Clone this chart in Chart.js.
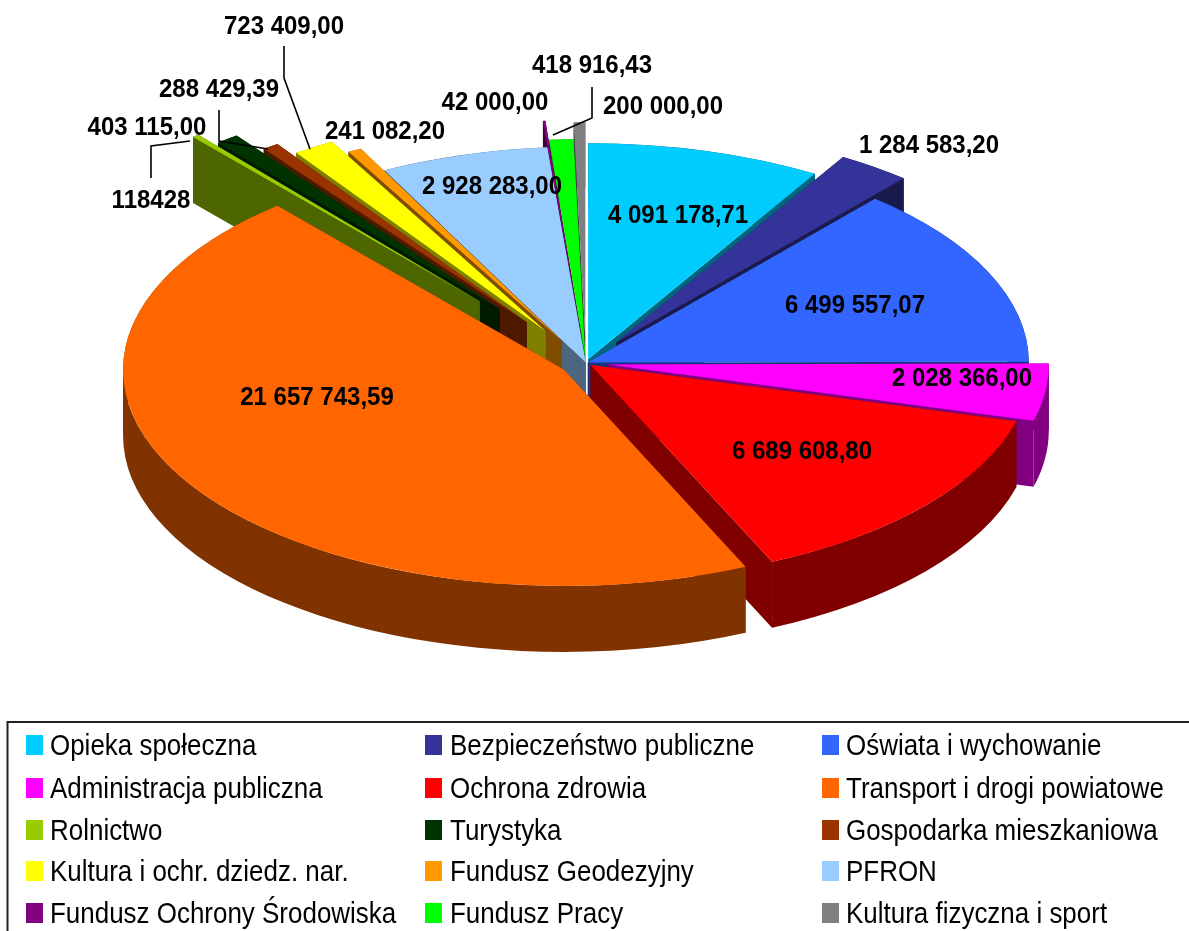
<!DOCTYPE html>
<html lang="pl">
<head>
<meta charset="utf-8">
<title>Wydatki</title>
<script src="https://cdn.jsdelivr.net/npm/chart.js@4/dist/chart.umd.js"></script>
<style>
html,body{margin:0;padding:0;background:#fff;overflow:hidden}
canvas{display:block}
</style>
</head>
<body>
<canvas id="c" width="1189" height="931"></canvas>
<script>
const categories = ["Opieka społeczna","Bezpieczeństwo publiczne","Oświata i wychowanie","Administracja publiczna","Ochrona zdrowia","Transport i drogi powiatowe","Rolnictwo","Turystyka","Gospodarka mieszkaniowa","Kultura i ochr. dziedz. nar.","Fundusz Geodezyjny","PFRON","Fundusz Ochrony Środowiska","Fundusz Pracy","Kultura fizyczna i sport"];
const values = [4091178.71,1284583.20,6499557.07,2028366.00,6689608.80,21657743.59,118428,403115.00,288429.39,723409.00,241082.20,2928283.00,42000.00,418916.43,200000.00];
const valueLabels = ["4 091 178,71","1 284 583,20","6 499 557,07","2 028 366,00","6 689 608,80","21 657 743,59","118428","403 115,00","288 429,39","723 409,00","241 082,20","2 928 283,00","42 000,00","418 916,43","200 000,00"];
const colors = ["#00ccff","#333399","#3366ff","#ff00ff","#ff0000","#ff6600","#99cc00","#003300","#993300","#ffff00","#ff9900","#99ccff","#800080","#00ff00","#808080"];
const explode = [8,52,2,22,6,26,165,140,102,77,51,1,55,16,50];
const labelPos = [[678,216],[929,146],[855,306],[962,379],[802,452],[317,398],[151,201],[147,128],[219,90],[284,27],[385,132],[492,187],[495,103],[592,66],[663,107]];
const leaders = [
  [[151,178],[151,146],[190,141]],
  [[219,110],[219,141],[268,149]],
  [[284,46],[284,78],[310,149]],
  [[592,87],[592,118],[553,135]]
];
const PIE = {cx:586, cy:363, k:0.49, r:441, depth:66};
const LEG = {x:7.5, y:722, swW:17, swH:20, cols:[[26,50],[425,450],[822,846]], rows:[745,788,830,871,913], font:29, sx:0.895};
const VAL = {font:25, sx:0.96};

function halfColor(hex){
  const n = parseInt(hex.slice(1),16);
  const h = v => Math.round(v/2).toString(16).padStart(2,'0');
  return '#'+h(n>>16&255)+h(n>>8&255)+h(n&255);
}

const pie3d = {
  id:'pie3d',
  afterDatasetUpdate(chart){
    const arcs = chart.getDatasetMeta(0).data;
    arcs.forEach((el,i)=>{
      const mid=(el.startAngle+el.endAngle)/2;
      el.x += Math.cos(mid)*explode[i];
      el.y += Math.sin(mid)*explode[i];
    });
  },
  beforeDatasetsDraw(chart){
    const ctx=chart.ctx, a=chart.chartArea;
    const ox=(a.left+a.right)/2, oy=(a.top+a.bottom)/2;
    ctx.save();
    ctx.translate(PIE.cx,PIE.cy);
    ctx.scale(1,PIE.k);
    ctx.translate(-ox,-oy);
    const arcs=chart.getDatasetMeta(0).data;
    // painter's order: the further a slice reaches from the back of the pie, the later it is painted
    const fromBack=el=>{
      const back=-Math.PI/2;
      const s=el.startAngle-back, e=el.endAngle-back;
      if(s<=Math.PI&&e>=Math.PI) return Math.PI;
      const dist=t=>{const n=((t%(2*Math.PI))+2*Math.PI)%(2*Math.PI);return Math.min(n,2*Math.PI-n);};
      return Math.max(dist(s),dist(e));
    };
    const order=arcs.map((el,i)=>i).sort((p,q)=>fromBack(arcs[p])-fromBack(arcs[q]));
    const d=PIE.depth/PIE.k;
    order.forEach(i=>{
      const el=arcs[i], R=el.outerRadius, s=el.startAngle, e=el.endAngle;
      ctx.fillStyle=halfColor(colors[i]);
      [s,e].forEach(t=>{
        const px=el.x+Math.cos(t)*R, py=el.y+Math.sin(t)*R;
        ctx.beginPath();
        ctx.moveTo(el.x,el.y);
        ctx.lineTo(px,py);
        ctx.lineTo(px,py+d);
        ctx.lineTo(el.x,el.y+d);
        ctx.closePath();
        ctx.fill();
      });
      // outer surface, split where the rim turns back (leftmost and rightmost points)
      const cuts=[s];
      for(let n=Math.ceil(s/Math.PI);n*Math.PI<e;n++){ if(n*Math.PI>s) cuts.push(n*Math.PI); }
      cuts.push(e);
      for(let c=0;c<cuts.length-1;c++){
        ctx.beginPath();
        ctx.arc(el.x,el.y,R,cuts[c],cuts[c+1]);
        ctx.arc(el.x,el.y+d,R,cuts[c+1],cuts[c],true);
        ctx.closePath();
        ctx.fill();
      }
    });
  },
  afterDatasetsDraw(chart){ chart.ctx.restore(); },
  afterDraw(chart){
    const ctx=chart.ctx;
    ctx.save();
    ctx.strokeStyle='#000'; ctx.lineWidth=1.6; ctx.lineJoin='miter';
    leaders.forEach(l=>{
      ctx.beginPath();
      l.forEach((p,i)=> i?ctx.lineTo(p[0],p[1]):ctx.moveTo(p[0],p[1]));
      ctx.stroke();
    });
    ctx.fillStyle='#000'; ctx.font='bold '+VAL.font+'px "Liberation Sans"';
    ctx.textAlign='center'; ctx.textBaseline='middle';
    valueLabels.forEach((t,i)=>{
      ctx.save();
      ctx.translate(labelPos[i][0],labelPos[i][1]);
      ctx.scale(VAL.sx,1);
      ctx.fillText(t,0,0);
      ctx.restore();
    });
    ctx.strokeStyle='#222'; ctx.lineWidth=2;
    ctx.strokeRect(LEG.x,LEG.y,1300,400);
    ctx.textAlign='left';
    ctx.font=LEG.font+'px "Liberation Sans"';
    categories.forEach((t,i)=>{
      const c=LEG.cols[i%3], y=LEG.rows[Math.floor(i/3)];
      ctx.fillStyle=colors[i];
      ctx.fillRect(c[0],y-LEG.swH/2,LEG.swW,LEG.swH);
      ctx.fillStyle='#000';
      ctx.save();
      ctx.translate(c[1],y);
      ctx.scale(LEG.sx,1);
      ctx.fillText(t,0,2);
      ctx.restore();
    });
    ctx.restore();
  }
};

new Chart(document.getElementById('c'),{
  type:'pie',
  data:{labels:categories,datasets:[{data:values,backgroundColor:colors,borderWidth:0,clip:false}]},
  options:{
    responsive:false,animation:false,events:[],
    radius:PIE.r,
    layout:{padding:0},
    plugins:{legend:{display:false},tooltip:{enabled:false}}
  },
  plugins:[pie3d]
});
</script>
</body>
</html>
